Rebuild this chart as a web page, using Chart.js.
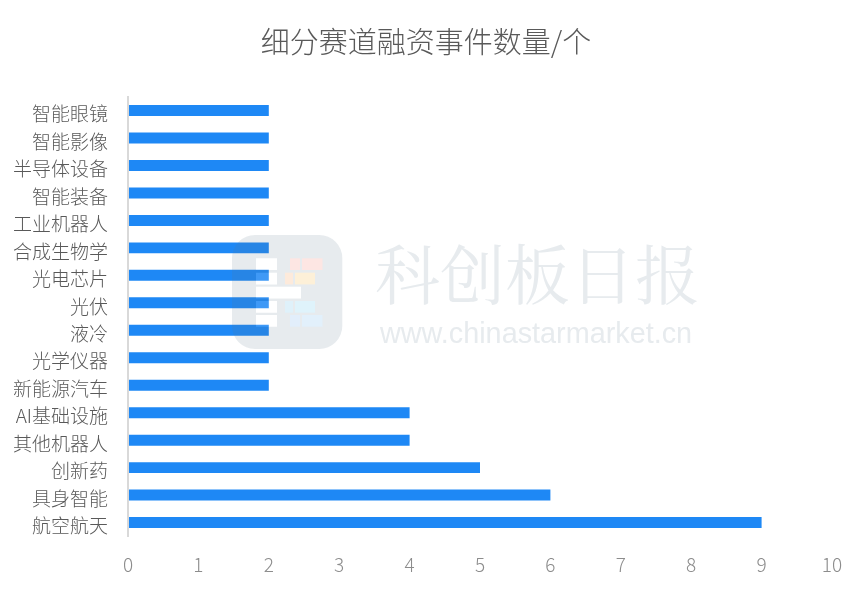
<!DOCTYPE html>
<html>
<head>
<meta charset="utf-8">
<script src="https://cdn.jsdelivr.net/npm/chart.js@4/dist/chart.umd.min.js"></script>
<style>
  html, body { margin: 0; padding: 0; background: #fff; }
  #wrap { width: 866px; height: 591px; }
</style>
</head>
<body>
<div id="wrap"><canvas id="grafico" width="866" height="591"></canvas></div>
<script>
const categorias = ["智能眼镜", "智能影像", "半导体设备", "智能装备", "工业机器人", "合成生物学", "光电芯片", "光伏", "液冷", "光学仪器", "新能源汽车", "AI基础设施", "其他机器人", "创新药", "具身智能", "航空航天"];
const eventos = [2, 2, 2, 2, 2, 2, 2, 2, 2, 2, 2, 4, 4, 5, 6, 9];
const titulo = "细分赛道融资事件数量/个";
const marcaNome = "科创板日报";
const marcaSite = "www.chinastarmarket.cn";

const fonteCJK = '"Noto Sans CJK SC", "Noto Sans", sans-serif';

// the title is centred a bit right of the canvas middle in the original
const tituloDeslocado = {
  id: "tituloDeslocado",
  afterLayout(chart) {
    chart.titleBlock.left = 20;
    chart.titleBlock.right = 832;
  }
};

// watermark sits on top of the bars, same as the original image
const marcaDagua = {
  id: "marcaDagua",
  afterDraw(chart) {
    const ctx = chart.ctx;
    const buracos = [
      [256, 258.3, 21, 11.7],
      [256, 272.7, 21, 11.7],
      [256, 286.7, 45, 11.7],
      [256, 301, 21, 11.7],
      [256, 315, 21, 11.7]
    ];
    const blocos = [
      [290, 258.3, 10, 11.7, "#fde6e3"],
      [302, 258.3, 20.5, 11.7, "#fde6e3"],
      [285, 272.7, 8, 11.7, "#fdeadb"],
      [295, 272.7, 20, 11.7, "#fdf0d8"],
      [285, 301, 8, 11.7, "#dff1fa"],
      [295, 301, 20, 11.7, "#dff3fb"],
      [290, 315, 10, 11.7, "#e2eefb"],
      [302, 315, 20.5, 11.7, "#e2f0fb"]
    ];

    ctx.save();
    // grey tile with the white blocks cut out, so the bars show through them
    ctx.fillStyle = "rgba(95,120,140,0.15)";
    ctx.beginPath();
    ctx.roundRect(232, 235, 110.3, 114, 23);
    buracos.forEach(b => ctx.rect(b[0], b[1], b[2], b[3]));
    ctx.fill("evenodd");

    ctx.fillStyle = "rgba(255,255,255,0.15)";
    buracos.forEach(b => ctx.fillRect(b[0], b[1], b[2], b[3]));

    blocos.forEach(b => {
      ctx.fillStyle = b[4];
      ctx.fillRect(b[0], b[1], b[2], b[3]);
    });

    ctx.fillStyle = "#e7ebee";
    ctx.textBaseline = "middle";
    ctx.textAlign = "left";
    ctx.font = '65px "Noto Serif CJK SC", "Noto Sans CJK SC", sans-serif';
    ctx.fillText(marcaNome, 375, 274);
    ctx.font = '28.8px "Liberation Sans", sans-serif';
    ctx.fillText(marcaSite, 380, 335);
    ctx.restore();
  }
};

new Chart(document.getElementById("grafico").getContext("2d"), {
  type: "bar",
  data: {
    labels: categorias,
    datasets: [{
      data: eventos,
      backgroundColor: "#1e88f5",
      barPercentage: 0.4,
      categoryPercentage: 1
    }]
  },
  options: {
    indexAxis: "y",
    responsive: false,
    animation: false,
    layout: { padding: { left: 0, right: 34, top: 0, bottom: 0 } },
    plugins: {
      legend: { display: false },
      tooltip: { enabled: false },
      title: {
        display: true,
        text: titulo,
        color: "#595959",
        font: { family: fonteCJK, size: 29, weight: "300" },
        padding: { top: 24.5, bottom: 37.5 }
      }
    },
    scales: {
      x: {
        min: 0,
        max: 10,
        grid: { display: false, drawTicks: false },
        border: { display: false },
        afterFit: s => { s.height = 54.7; },
        ticks: {
          stepSize: 1,
          maxRotation: 0,
          padding: 17,
          color: "#8c8c8c",
          font: { family: fonteCJK, size: 19, weight: "300" }
        }
      },
      y: {
        grid: { display: false, drawTicks: false },
        border: { display: true, color: "#d9d9d9", width: 2, z: 1 },
        afterFit: s => { s.width = 128; },
        ticks: {
          autoSkip: false,
          padding: 20,
          labelOffset: 3.5,
          color: "#595959",
          font: { family: fonteCJK, size: 19, weight: "300" }
        }
      }
    }
  },
  plugins: [tituloDeslocado, marcaDagua]
});
</script>
</body>
</html>
